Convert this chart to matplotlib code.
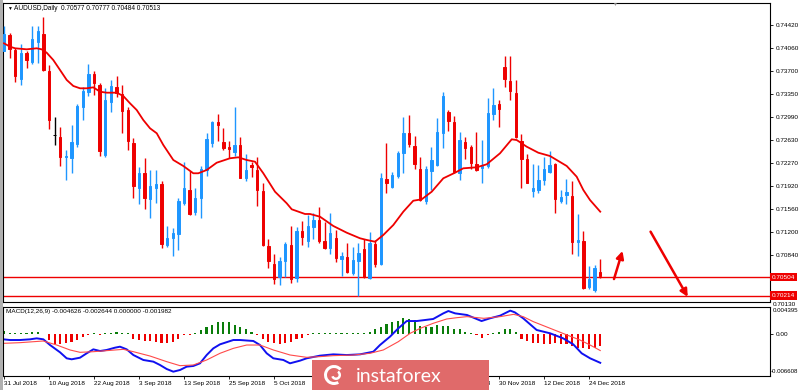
import numpy as np
import matplotlib
matplotlib.use('Agg')
import matplotlib.pyplot as plt
from matplotlib.patches import Rectangle, Wedge
from matplotlib.transforms import IdentityTransform

plt.rcParams['font.family'] = ['Liberation Sans', 'DejaVu Sans']

# daily AUDUSD bars, 31 Jul 2018 .. 26 Dec 2018
opens = [0.74016, 0.74260, 0.74027, 0.73573, 0.73976, 0.73846, 0.74156, 0.74271, 0.73701, 0.72708,
         0.72677, 0.72374, 0.72347, 0.72564, 0.73147, 0.73371, 0.73650, 0.73484, 0.72398, 0.73216,
         0.73448, 0.73340, 0.73096, 0.72579, 0.71881, 0.72114, 0.71710, 0.71890, 0.71948, 0.70996,
         0.71110, 0.71167, 0.71648, 0.71855, 0.71508, 0.71726, 0.72165, 0.72589, 0.72905, 0.72595,
         0.72517, 0.72449, 0.72553, 0.72045, 0.72243, 0.72165, 0.71839, 0.70985, 0.70706, 0.70509,
         0.70757, 0.71001, 0.70493, 0.71218, 0.71068, 0.71276, 0.71389, 0.71063, 0.70959, 0.71114,
         0.70779, 0.70819, 0.70562, 0.70757, 0.70934, 0.70493, 0.71012, 0.70706, 0.72025, 0.71906,
         0.72076, 0.72433, 0.72735, 0.72537, 0.72176, 0.71688, 0.72154, 0.72243, 0.72744, 0.73060,
         0.72915, 0.72114, 0.72595, 0.72527, 0.72258, 0.72191, 0.72227, 0.73034, 0.73185, 0.73759,
         0.73546, 0.73355, 0.72620, 0.72331, 0.71844, 0.71855, 0.72010, 0.72129, 0.72258, 0.71684,
         0.71777, 0.71761, 0.71043, 0.71063, 0.70354, 0.70303, 0.70577]
highs = [0.74400, 0.74296, 0.74054, 0.74120, 0.74016, 0.74400, 0.74400, 0.74535, 0.73795, 0.72992,
         0.72828, 0.72475, 0.72863, 0.73189, 0.73448, 0.73810, 0.73701, 0.73520, 0.73442, 0.73562,
         0.73624, 0.73484, 0.73147, 0.72666, 0.72216, 0.72356, 0.72165, 0.72165, 0.71999, 0.71296,
         0.71260, 0.71726, 0.72294, 0.72149, 0.71881, 0.72227, 0.72744, 0.72925, 0.73034, 0.72812,
         0.72620, 0.73138, 0.72672, 0.72409, 0.72294, 0.72371, 0.71959, 0.71089, 0.70857, 0.70819,
         0.71052, 0.71296, 0.71276, 0.71378, 0.71467, 0.71493, 0.71586, 0.71363, 0.71493, 0.71234,
         0.70897, 0.71037, 0.70975, 0.71027, 0.71089, 0.71207, 0.71079, 0.72114, 0.72579, 0.72129,
         0.72464, 0.72992, 0.73019, 0.72693, 0.72371, 0.72227, 0.72527, 0.72977, 0.73380, 0.73096,
         0.73003, 0.72759, 0.72672, 0.72553, 0.72750, 0.72630, 0.73278, 0.73433, 0.73251, 0.73934,
         0.73934, 0.73562, 0.72724, 0.72409, 0.72258, 0.72243, 0.72371, 0.72460, 0.72269, 0.71855,
         0.72021, 0.71994, 0.71482, 0.71223, 0.70675, 0.70691, 0.70777]
lows = [0.74012, 0.73899, 0.73535, 0.73484, 0.73743, 0.73810, 0.73821, 0.73706, 0.72797, 0.72553,
        0.72227, 0.72010, 0.72123, 0.72527, 0.72941, 0.73318, 0.73329, 0.72387, 0.72362, 0.73070,
        0.73293, 0.72735, 0.72475, 0.71735, 0.71637, 0.71560, 0.71415, 0.71648, 0.70950, 0.70965,
        0.70830, 0.70923, 0.71622, 0.71467, 0.71467, 0.71415, 0.72072, 0.72517, 0.72620, 0.72475,
        0.72347, 0.72387, 0.72036, 0.71999, 0.72052, 0.71606, 0.70990, 0.70639, 0.70391, 0.70380,
        0.70509, 0.70407, 0.70431, 0.71001, 0.70975, 0.71089, 0.71027, 0.70934, 0.70861, 0.70742,
        0.70520, 0.70562, 0.70535, 0.70214, 0.70484, 0.70469, 0.70664, 0.70691, 0.71813, 0.71881,
        0.72036, 0.72114, 0.72517, 0.72176, 0.71688, 0.71633, 0.71855, 0.72227, 0.72502, 0.72775,
        0.72114, 0.72010, 0.72331, 0.72176, 0.72154, 0.71968, 0.72191, 0.72941, 0.72837, 0.73458,
        0.73251, 0.72657, 0.71890, 0.71959, 0.71751, 0.71813, 0.71932, 0.72114, 0.71493, 0.71648,
        0.71637, 0.70857, 0.70830, 0.70313, 0.70313, 0.70276, 0.70484]
closes = [0.74276, 0.74038, 0.73624, 0.73976, 0.73872, 0.74193, 0.74322, 0.73717, 0.72941, 0.72708,
          0.72371, 0.72387, 0.72595, 0.73158, 0.73391, 0.73650, 0.73511, 0.72464, 0.73251, 0.73469,
          0.73355, 0.73085, 0.72620, 0.71917, 0.72123, 0.71735, 0.71917, 0.71948, 0.71012, 0.71105,
          0.71192, 0.71688, 0.71890, 0.71477, 0.71726, 0.72176, 0.72641, 0.72905, 0.72863, 0.72502,
          0.72486, 0.72553, 0.72045, 0.72165, 0.72216, 0.71855, 0.71001, 0.70757, 0.70473, 0.70753,
          0.71012, 0.70469, 0.71218, 0.71130, 0.71296, 0.71389, 0.71063, 0.70959, 0.71183, 0.70795,
          0.70830, 0.70587, 0.70768, 0.70872, 0.70509, 0.71037, 0.70706, 0.72036, 0.71959, 0.72087,
          0.72433, 0.72735, 0.72564, 0.72253, 0.71699, 0.72176, 0.72320, 0.72750, 0.73313, 0.72925,
          0.72139, 0.72630, 0.72502, 0.72269, 0.72165, 0.72243, 0.73045, 0.73174, 0.73112, 0.73577,
          0.73391, 0.72682, 0.72331, 0.71968, 0.71881, 0.72010, 0.72180, 0.72243, 0.71710, 0.71741,
          0.71819, 0.71052, 0.71079, 0.70329, 0.70469, 0.70649, 0.70513]

date_labels = ['31 Jul 2018', '10 Aug 2018', '22 Aug 2018', '3 Sep 2018', '13 Sep 2018',
               '25 Sep 2018', '5 Oct 2018', '17 Oct 2018', '29 Oct 2018', '8 Nov 2018',
               '20 Nov 2018', '30 Nov 2018', '12 Dec 2018', '24 Dec 2018']
date_bars = [0, 8, 16, 24, 32, 40, 48, 56, 64, 72, 80, 88, 96, 104]

# moving average line (bar position, price)
ma_x = [0, 1.07, 1.96, 4.04, 5.81, 6.70, 7.59, 8.76, 9.96, 11.15, 12.32, 13.51, 14.70, 15.88, 17.07,
        18.26, 20.04, 21.21, 22.40, 23.59, 24.76, 25.96, 27.15, 28.32, 30.10, 31.88, 33.65, 34.54,
        36.04, 37.81, 40.18, 41.65, 43.15, 44.62, 46.10, 48.18, 50.26, 51.15, 53.51, 54.40, 56.18,
        58.54, 60.92, 63.29, 64.48, 65.96, 67.43, 69.21, 70.99, 72.76, 74.26, 76.04, 78.10, 80.18,
        81.65, 84.04, 85.81, 88.18, 90.26, 91.15, 92.92, 94.99, 97.07, 100.04, 101.81, 102.99,
        104.18, 106.0]
ma_val = [0.74131, 0.74079, 0.74054, 0.74038, 0.74054, 0.74038, 0.73985, 0.73872, 0.73717, 0.73562,
          0.73469, 0.73433, 0.73433, 0.73448, 0.73380, 0.73365, 0.73365, 0.73313, 0.73200, 0.73096,
          0.72941, 0.72812, 0.72735, 0.72553, 0.72320, 0.72227, 0.72114, 0.72114, 0.72165, 0.72278,
          0.72347, 0.72362, 0.72320, 0.72294, 0.72114, 0.71828, 0.71648, 0.71555, 0.71482, 0.71482,
          0.71440, 0.71296, 0.71192, 0.71105, 0.71079, 0.71052, 0.71156, 0.71311, 0.71518, 0.71688,
          0.71710, 0.71828, 0.72036, 0.72123, 0.72191, 0.72207, 0.72253, 0.72424, 0.72641, 0.72630,
          0.72527, 0.72433, 0.72382, 0.72227, 0.72061, 0.71855, 0.71699, 0.71518]

# MACD(12,26,9)
hist = [0.0005, 0.0002, 0.0002, 0.0002, 0.0002, 0.0003, 0.0004, 0.0001, -0.0009, -0.0016,
        -0.0016, -0.0015, -0.0012, -0.0009, -0.0004, -0.0002, 0.0002, -0.0002, 0.0002, 0.0002,
        0.0003, 0.0002, 0.0002, -0.0007, -0.0009, -0.0011, -0.0011, -0.0012, -0.0014, -0.0014,
        -0.0012, -0.0007, -0.0002, -0.0002, 0.0002, 0.0007, 0.0012, 0.0015, 0.0020, 0.0020,
        0.0019, 0.0015, 0.0012, 0.0008, 0.0003, -0.0002, -0.0007, -0.0012, -0.0015, -0.0016,
        -0.0015, -0.0012, -0.0008, -0.0006, -0.0002, 0.0002, 0.0002, 0.0002, 0.0002, 0.0002,
        0.0002, 0.0002, 0.0002, 0.0002, 0.0002, 0.0004, 0.0009, 0.0012, 0.0016, 0.0020,
        0.0022, 0.0026, 0.0025, 0.0023, 0.0014, 0.0012, 0.0012, 0.0015, 0.0013, 0.0014,
        0.0008, 0.0008, 0.0003, 0.0002, -0.0002, -0.0006, -0.0002, 0.0002, 0.0004, 0.0008,
        0.0008, 0.0003, -0.0007, -0.0011, -0.0015, -0.0015, -0.0016, -0.0016, -0.0015, -0.0016,
        -0.0016, -0.0019, -0.0023, -0.0023, -0.0024, -0.0023, -0.001982]
macd_x = [-0.12, 1.07, 2.84, 4.62, 5.81, 6.99, 8.18, 9.96, 11.14, 12.03, 13.51, 14.70, 15.88, 17.07,
          18.25, 19.73, 20.62, 21.81, 23.0, 24.77, 26.55, 27.73, 28.92, 30.1, 31.29, 32.47, 33.66,
          34.84, 36.03, 37.21, 38.4, 40.77, 41.96, 44.33, 45.51, 46.7, 47.88, 49.66, 50.84, 52.62,
          53.81, 56.18, 58.55, 60.92, 63.29, 65.66, 66.84, 68.62, 70.1, 71.6, 73.4, 76.3, 78.1, 79.0,
          80.2, 82.3, 84.9, 86.4, 88.2, 90.0, 90.8, 92.3, 94.7, 97.1, 99.4, 101.2, 102.7, 104.2, 106.0]
macd_main = [-0.00083, -0.00094, -0.00094, -0.00083, -0.00067, -0.00083, -0.00175, -0.00293, -0.0039,
             -0.00406, -0.0038, -0.00309, -0.00245, -0.00272, -0.00255, -0.00218, -0.00202, -0.00245,
             -0.00337, -0.00417, -0.00444, -0.00498, -0.00563, -0.00606, -0.00579, -0.00525, -0.00514,
             -0.00471, -0.00337, -0.00229, -0.00164, -0.00094, -0.00094, -0.0011, -0.00175, -0.00309,
             -0.0039, -0.00417, -0.00471, -0.00428, -0.0039, -0.00347, -0.00326, -0.00337, -0.00326,
             -0.00283, -0.00175, -0.0004, 0.00095, 0.00213, 0.00213, 0.00246, 0.00337, 0.00375,
             0.00337, 0.00311, 0.00213, 0.00257, 0.003, 0.00381, 0.00354, 0.00257, 0.00068, 0.00014,
             -0.00067, -0.00164, -0.00309, -0.0039, -0.004626]
sig_x = [-0.12, 2.84, 6.99, 9.37, 11.73, 13.51, 15.88, 18.25, 21.21, 23.0, 25.96, 28.92, 31.29,
         33.66, 36.03, 38.4, 40.77, 43.14, 45.51, 47.88, 50.84, 53.81, 56.18, 58.55, 62.1, 65.07,
         67.44, 70.1, 72.2, 74.0, 76.3, 78.7, 80.5, 82.3, 85.3, 88.2, 90.6, 92.3, 94.1, 97.1, 100.1,
         102.4, 104.2, 106.0]
sig_val = [-0.00148, -0.00137, -0.0011, -0.00175, -0.00255, -0.00293, -0.00283, -0.00266, -0.00245,
           -0.00283, -0.00353, -0.00444, -0.00509, -0.00498, -0.00417, -0.00309, -0.00229, -0.00175,
           -0.00175, -0.00255, -0.00336, -0.00374, -0.00363, -0.00347, -0.00337, -0.00309, -0.00255,
           -0.00121, 0.00014, 0.00095, 0.00176, 0.00246, 0.00267, 0.00284, 0.00257, 0.00284, 0.00321,
           0.00284, 0.00203, 0.00095, -0.00013, -0.00094, -0.00175, -0.002644]

price_ticks = [0.74420, 0.74060, 0.73700, 0.73350, 0.72990, 0.72630, 0.72270,
               0.71920, 0.71560, 0.71200, 0.70840]
levels = [0.70504, 0.70214]

BULL = '#1e96ff'
BEAR = '#ee0000'
FS = 4.6
W, H = 800, 390


def box(x0, y0, x1, y1):
    return [x0 / W, 1 - y1 / H, (x1 - x0) / W, (y1 - y0) / H]


fig = plt.figure(figsize=(8, 3.9), dpi=100)
ax = fig.add_axes(box(3, 3, 770, 302))
am = fig.add_axes(box(3, 306.5, 770, 375.5))

o = np.array(opens)
c = np.array(closes)
h = np.array(highs)
l = np.array(lows)
idx = np.arange(len(o))
cols = np.where(c > o, BULL, np.where(c < o, BEAR, 'black'))

ax.vlines(idx, l, h, colors=cols, lw=1.0, zorder=3)
ax.bar(idx, np.abs(c - o), bottom=np.minimum(o, c), width=0.42,
       color=cols, edgecolor=cols, lw=0.7, zorder=4)
ax.plot(ma_x, ma_val, color='#ee0000', lw=1.3, zorder=5)
for lv in levels:
    ax.axhline(lv, color='#ee0000', lw=1.0, zorder=2)

# forecast arrows
ax.annotate('', xy=(110.1, 0.70950), xytext=(108.3, 0.70431),
            arrowprops=dict(arrowstyle='-|>', color='#ee0000', lw=1.8, mutation_scale=11))
ax.annotate('', xy=(121.8, 0.70158), xytext=(114.7, 0.71245),
            arrowprops=dict(arrowstyle='-|>', color='#ee0000', lw=1.8, mutation_scale=11))

ax.set_xlim(-0.18, 136.18)
ax.set_ylim(0.70116, 0.74757)
ax.yaxis.tick_right()
ax.set_yticks(price_ticks)
ax.set_yticklabels(['%.5f' % v for v in price_ticks])
ax.tick_params(axis='y', length=2.5, width=0.6, labelsize=FS, pad=1.5)
ax.set_xticks([])
ax.text(1.004, 0.0, '0.70130', transform=ax.transAxes, fontsize=FS, va='top', ha='left')
for lv in levels:
    ax.text(1.002, lv, '%.5f' % lv, transform=ax.get_yaxis_transform(), fontsize=FS,
            color='white', va='center', ha='left',
            bbox=dict(boxstyle='square,pad=0.3', fc='#ee0000', ec='none'))
for s in ax.spines.values():
    s.set_linewidth(0.8)

ax.text(0.0143, 0.982, 'AUDUSD,Daily  0.70577 0.70777 0.70484 0.70513',
        transform=ax.transAxes, fontsize=4.7, va='center', ha='left')
ax.text(0.005, 0.982, '▼', transform=ax.transAxes, fontsize=3.5, va='center', ha='left')
ax.text(108.6, 0.7474, '▼', fontsize=3.5, color='#999999', va='center', ha='center')

# MACD panel
hv = np.array(hist)
am.bar(idx, hv, width=0.36, color=np.where(hv >= 0, '#0a7d0a', '#ee0000'), lw=0)
am.plot(macd_x, macd_main, color='#1010f0', lw=1.4)
am.plot(sig_x, sig_val, color='#ff4a4a', lw=0.8)
am.set_xlim(-0.18, 136.18)
am.set_ylim(-0.00668, 0.00448)
am.yaxis.tick_right()
am.set_yticks([0.0])
am.set_yticklabels(['0.00'])
am.tick_params(axis='y', length=2.5, width=0.6, labelsize=FS, pad=1.5)
am.text(1.003, 0.985, '0.004395', transform=am.transAxes, fontsize=4.4, va='top', ha='left')
am.text(1.001, 0.02, '-0.006608', transform=am.transAxes, fontsize=4.4, va='bottom', ha='left')
am.text(0.004, 0.93, 'MACD(12,26,9) -0.004626 -0.002644 0.000000 -0.001982',
        transform=am.transAxes, fontsize=FS, va='center', ha='left')
am.set_xticks(date_bars)
am.set_xticklabels(date_labels)
for t in am.get_xticklabels():
    t.set_ha('left')
am.tick_params(axis='x', length=2.5, width=0.6, labelsize=FS, pad=1.5)
for s in am.spines.values():
    s.set_linewidth(0.8)

# window border and watermark
fig.patches.append(Rectangle((0, 0), 3 / W, 1, transform=fig.transFigure,
                             fc='#b0b0b0', ec='none'))
fig.patches.append(Rectangle((312 / W, 0), 177 / W, 30.5 / H, transform=fig.transFigure,
                             fc='#e06a6a', ec='none', zorder=10))
fig.patches.append(Wedge((334, 15), 10, 40, 300, width=3, transform=IdentityTransform(),
                         fc='white', ec='none', zorder=11))
fig.patches.append(Wedge((336, 15), 5, 200, 60, width=2.5, transform=IdentityTransform(),
                         fc='white', ec='none', zorder=11))
fig.text(356 / W, 8 / H, 'instaforex', fontsize=14, color='white', family='Lato',
         va='baseline', ha='left', zorder=11)

fig.savefig('out.png', dpi=100, facecolor='white')
